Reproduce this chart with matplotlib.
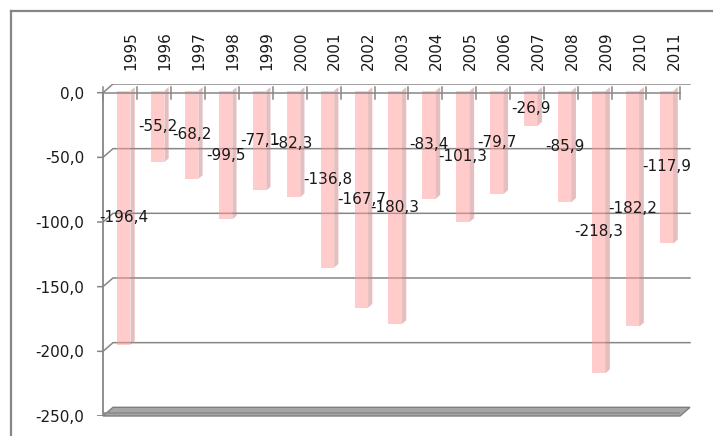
import matplotlib
matplotlib.use("Agg")
import matplotlib.pyplot as plt
from matplotlib.lines import Line2D

# data
years = ['1995', '1996', '1997', '1998', '1999', '2000', '2001', '2002', '2003',
         '2004', '2005', '2006', '2007', '2008', '2009', '2010', '2011']
values = [-196.4, -55.2, -68.2, -99.5, -77.1, -82.3, -136.8, -167.7, -180.3,
          -83.4, -101.3, -79.7, -26.9, -85.9, -218.3, -182.2, -117.9]
yticks = [0, -50, -100, -150, -200, -250]

W, H = 713, 436
fig = plt.figure(figsize=(W / 100, H / 100), dpi=100)

# axes placed in pixels: front x-axis 103..680, back wall top at 84, floor front at 416
L, R, T, B = 97, 692, 84, 416
ax = fig.add_axes([L / W, (H - B) / H, (R - L) / W, (B - T) / H])
px_per_cat = (680 - 103) / len(years)
ax.set_xlim(-(103 - L) / px_per_cat, (R - 103) / px_per_cat)
ax.set_ylim(-250, 8.7 / 1.2936)
for s in ax.spines.values():
    s.set_visible(False)

grey = '#868686'
dx = 10 / px_per_cat      # depth offset (back wall) in category units
dy = 8.7 / 1.2936         # depth offset in value units
n = len(years)
xl = ax.get_xlim()[0]

# back wall gridlines with side-wall diagonal and front ticks
for v in yticks[1:-1]:
    ax.plot([xl, 0, dx, n + dx], [v, v, v + dy, v + dy], color=grey, lw=1.1, zorder=1)
# zero plane
ax.plot([n + dx, dx, 0, xl], [dy, dy, 0, 0], color=grey, lw=1.1, zorder=1)
ax.plot([0, n], [0, 0], color=grey, lw=1.1, zorder=4)
for j in range(n + 1):
    ax.plot([j, j], [-4.5, 4.5], color=grey, lw=1.1, zorder=4)
# left axis
ax.plot([0, 0], [0, -250], color=grey, lw=1.3, zorder=1)
ax.plot([xl, 0], [-250, -250], color=grey, lw=1.3, zorder=1)
# floor slab
ax.fill([0, n, n + dx, dx], [-250, -250, -250 + dy, -250 + dy],
        facecolor='#a6a6a6', edgecolor='#7f7f7f', lw=1.0, zorder=1, clip_on=False)
ax.plot([0.02, n - 0.02], [-248, -248], color='#8c8c8c', lw=1.2, zorder=1)

# bars: front face + side face
x0 = [i + 0.41 for i in range(n)]
base = 1.5
bw = 0.40
ax.bar(x0, values, width=bw, bottom=base, align='edge',
       color=(1, 0.6, 0.6, 0.5), lw=0, zorder=2)
sx, sy = 0.125, 2.9
for xi, v in zip(x0, values):
    xr = xi + bw
    ax.fill([xr, xr + sx, xr + sx, xr], [base, base + sy, base + v + sy, base + v],
            facecolor=(0.8, 0.5, 0.5, 0.5), lw=0, zorder=2)

# data labels
for xi, v in zip(x0, values):
    ax.text(xi + bw / 2, v / 2 + base, f'{v:.1f}'.replace('.', ','),
            ha='center', va='center', fontsize=11, color='#1a1a1a', zorder=5)

# y tick labels
ax.set_yticks(yticks)
ax.set_yticklabels([f'{v:.1f}'.replace('.', ',') for v in yticks], fontsize=11, color='#1a1a1a')
ax.tick_params(axis='y', length=0, pad=9)

# year labels on top
ax.xaxis.tick_top()
ax.set_xticks([i + 0.83 for i in range(n)])
ax.set_xticklabels(years, rotation=90, fontsize=11, color='#1a1a1a')
ax.tick_params(axis='x', length=0, pad=10)

# chart area frame
fig.add_artist(Line2D([10.5 / W, 1], [1 - 11.5 / H, 1 - 11.5 / H], color=grey, lw=1.6))
fig.add_artist(Line2D([10.5 / W, 10.5 / W], [0, 1 - 11.5 / H], color=grey, lw=1.6))

fig.savefig('out.png', dpi=100)
